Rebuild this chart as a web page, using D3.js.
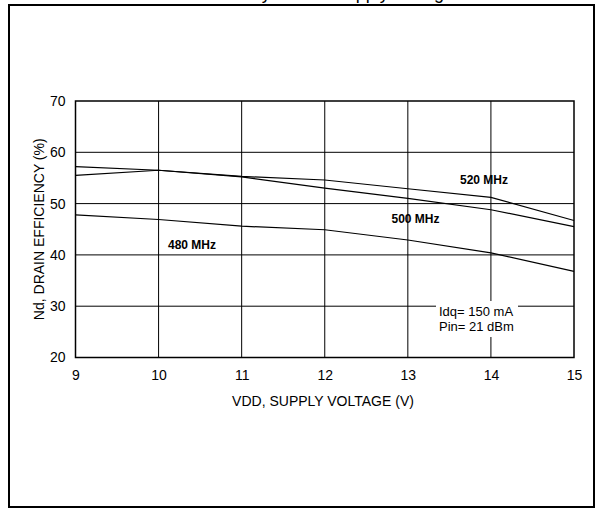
<!DOCTYPE html>
<html>
<head>
<meta charset="utf-8">
<script src="https://cdn.jsdelivr.net/npm/d3@7"></script>
<style>
  html, body { margin: 0; padding: 0; background: #fff; }
  svg { display: block; font-family: "Liberation Sans", Arial, sans-serif; }
</style>
</head>
<body>
<svg id="chart" width="597" height="509"></svg>
<script>
// ---- data ----
const voltages = [9, 10, 11, 12, 13, 14, 15];
const eff520 = [55.5, 56.5, 55.3, 54.6, 52.9, 51.2, 46.7];
const eff500 = [57.2, 56.5, 55.2, 53.0, 51.0, 48.8, 45.5];
const eff480 = [47.8, 46.9, 45.6, 44.9, 42.9, 40.4, 36.8];
const seriesNames = ["520 MHz", "500 MHz", "480 MHz"];
const xTicks = [9, 10, 11, 12, 13, 14, 15];
const yTicks = [20, 30, 40, 50, 60, 70];
const titleText = "Drain Efficiency versus Supply Voltage";
const xLabel = "VDD, SUPPLY VOLTAGE (V)";
const yLabel = "Nd, DRAIN EFFICIENCY (%)";
const noteLines = ["Idq= 150 mA", "Pin= 21 dBm"];

(function () {
const svg = d3.select("#chart");
const pL = 75.5, pR = 574, pT = 101, pB = 357.5;

const x = d3.scaleLinear().domain([9, 15]).range([pL, pR]);
const y = d3.scaleLinear().domain([20, 70]).range([pB, pT]);

// outer frame
svg.append("rect")
  .attr("x", 9).attr("y", 5).attr("width", 585).attr("height", 502)
  .attr("fill", "none").attr("stroke", "#000").attr("stroke-width", 2);

// title (clipped at top, only descenders visible as in the reference)
svg.append("text")
  .attr("x", 300).attr("y", -1)
  .attr("text-anchor", "middle")
  .attr("font-size", 18)
  .text(titleText);

// grid
const g = svg.append("g");
g.selectAll("line.vg").data(xTicks.slice(1, -1)).enter().append("line")
  .attr("x1", d => x(d)).attr("x2", d => x(d))
  .attr("y1", pT).attr("y2", pB)
  .attr("stroke", "#000").attr("stroke-width", 1);
g.selectAll("line.hg").data(yTicks.slice(1, -1)).enter().append("line")
  .attr("x1", pL).attr("x2", pR)
  .attr("y1", d => y(d)).attr("y2", d => y(d))
  .attr("stroke", "#000").attr("stroke-width", 1);

// annotation background box
svg.append("rect")
  .attr("x", 436).attr("y", 301).attr("width", 82).attr("height", 36)
  .attr("fill", "#fff");

// plot border
svg.append("rect")
  .attr("x", pL).attr("y", pT).attr("width", pR - pL).attr("height", pB - pT)
  .attr("fill", "none").attr("stroke", "#000").attr("stroke-width", 1.5);

// axes (tick labels)
const xAxis = d3.axisBottom(x).tickValues(xTicks).tickSize(0).tickPadding(13).tickFormat(d3.format("d"));
const yAxis = d3.axisLeft(y).tickValues(yTicks).tickSize(0).tickPadding(10).tickFormat(d3.format("d"));
const gx = svg.append("g").attr("transform", `translate(0,${pB})`).call(xAxis);
const gy = svg.append("g").attr("transform", `translate(${pL},0)`).call(yAxis);
[gx, gy].forEach(a => {
  a.select(".domain").remove();
  a.selectAll("text").attr("font-size", 14).attr("fill", "#000")
    .attr("font-family", "'Liberation Sans', Arial, sans-serif");
});

// lines
const line = d3.line().x((d, i) => x(voltages[i])).y(d => y(d));
[eff520, eff500, eff480].forEach(s => {
  svg.append("path").datum(s)
    .attr("d", line)
    .attr("fill", "none").attr("stroke", "#000").attr("stroke-width", 1.2);
});

// series labels
const labelPos = [[460, 184], [391.5, 223], [168, 249]];
seriesNames.forEach((n, i) => {
  svg.append("text")
    .attr("x", labelPos[i][0]).attr("y", labelPos[i][1])
    .attr("font-size", 12).attr("font-weight", "bold")
    .text(n);
});

// note
noteLines.forEach((t, i) => {
  svg.append("text")
    .attr("x", 439).attr("y", 316 + i * 15)
    .attr("font-size", 13)
    .text(t);
});

// axis titles
svg.append("text")
  .attr("x", 323).attr("y", 406)
  .attr("text-anchor", "middle").attr("font-size", 14)
  .text(xLabel);
svg.append("text")
  .attr("transform", `translate(44,${(pT + pB) / 2}) rotate(-90)`)
  .attr("text-anchor", "middle").attr("font-size", 14)
  .text(yLabel);
})();
</script>
</body>
</html>
